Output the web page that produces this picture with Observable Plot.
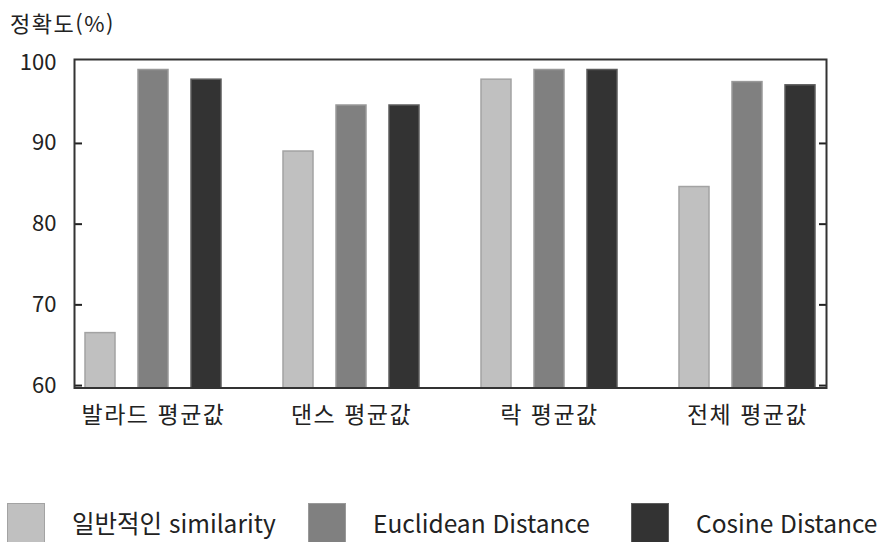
<!DOCTYPE html>
<html lang="ko">
<head>
<meta charset="utf-8">
<script src="https://cdn.jsdelivr.net/npm/d3@7"></script>
<script src="https://cdn.jsdelivr.net/npm/@observablehq/plot@0.6"></script>
<style>
  html, body { margin: 0; padding: 0; background: #fff; }
  body { width: 888px; height: 542px; overflow: hidden; font-family: "Noto Sans CJK KR", "Noto Sans", sans-serif; color: #222; }
  #title { height: 45px; line-height: 45px; padding-left: 10px; font-size: 22px; letter-spacing: 1.5px; }
  #chart svg { display: block; }
  #chart g[aria-label="fx-axis tick label"] text { letter-spacing: 1.5px; }
  #legend { display: grid; grid-template-columns: 301px 323px auto; padding-left: 7px; padding-top: 13px; height: 39px; }
  .item { display: flex; align-items: flex-start; }
  .swatch { width: 38px; height: 40px; box-sizing: border-box; border: 1.5px solid; flex: none; }
  .label { margin-left: 27px; font-size: 24.5px; line-height: 24px; margin-top: 8px; white-space: nowrap; }
</style>
</head>
<body>
<div id="title">정확도(%)</div>
<div id="chart"></div>
<div id="legend"></div>
<script>
// Average accuracy per genre for three similarity measures
const groups = ["발라드 평균값", "댄스 평균값", "락 평균값", "전체 평균값"];
const series = ["일반적인 similarity", "Euclidean Distance", "Cosine Distance"];
const similarity = [66.5, 89.0, 97.9, 84.6];
const euclidean = [99.1, 94.7, 99.1, 97.6];
const cosine = [97.9, 94.7, 99.1, 97.2];
const yTicks = [60, 70, 80, 90, 100];
const yTickMarks = [60, 70, 80, 90];

const fills = ["#c0c0c0", "#808080", "#333333"];
const strokes = ["#a3a3a3", "#999999", "#5c5c5c"];

const valuesBySeries = [similarity, euclidean, cosine];
const rows = groups.flatMap((g, i) =>
  series.map((s, j) => ({group: g, series: s, value: valuesBySeries[j][i]}))
);

const yDomain = [59.7, 100.4];

const chart = Plot.plot({
  width: 888,
  height: 445,
  marginLeft: 68,
  marginRight: 56,
  marginTop: 14,
  marginBottom: 102.5,
  style: {fontFamily: "'Noto Sans CJK KR', 'Noto Sans', sans-serif", color: "#222", background: "#fff"},
  fx: {domain: groups, paddingInner: 0.2, paddingOuter: 0.025, label: null},
  x: {domain: series, paddingInner: 0.426, paddingOuter: 0.18, axis: null},
  y: {domain: yDomain, label: null},
  marks: [
    ...series.map((s, j) =>
      Plot.barY(rows.filter(d => d.series === s), {
        fx: "group",
        x: "series",
        y: "value",
        fill: fills[j],
        stroke: strokes[j],
        strokeWidth: 1.5,
        clip: true
      })
    ),
    Plot.axisFx({anchor: "bottom", tickSize: 0, tickPadding: 19, fontSize: 23, label: null}),
    Plot.axisY(yTicks, {anchor: "left", tickSize: 0, tickPadding: 18, fontSize: 22, label: null}),
    Plot.axisY(yTickMarks, {anchor: "left", tickSize: 8, dx: 8, text: null, label: null, stroke: "#222", strokeWidth: 2}),
    Plot.axisY(yTickMarks, {anchor: "right", tickSize: 8, dx: -8, text: null, label: null, stroke: "#222", strokeWidth: 2}),
    Plot.frame({facet: "super", stroke: "#333", strokeWidth: 2})
  ]
});
document.getElementById("chart").append(chart);

// HTML legend below the chart
const legend = document.getElementById("legend");
series.forEach((s, j) => {
  const item = document.createElement("div");
  item.className = "item";
  const sw = document.createElement("div");
  sw.className = "swatch";
  sw.style.background = fills[j];
  sw.style.borderColor = strokes[j];
  const lab = document.createElement("span");
  lab.className = "label";
  lab.textContent = s;
  item.append(sw, lab);
  legend.append(item);
});
</script>
</body>
</html>
